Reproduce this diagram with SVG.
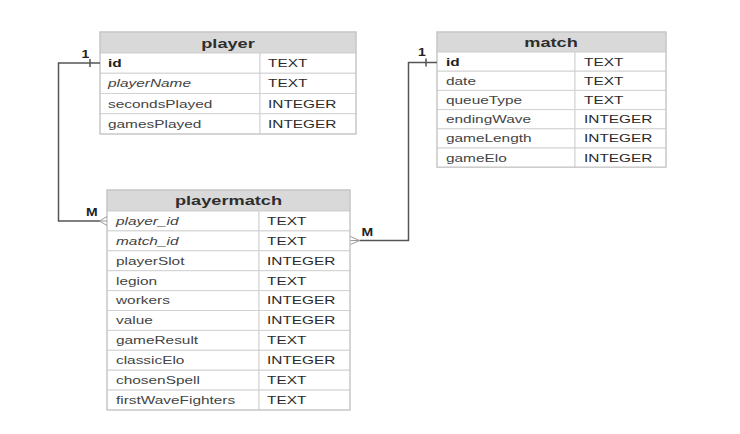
<svg xmlns="http://www.w3.org/2000/svg" width="740" height="434" viewBox="0 0 740 434">
  <style>
    .hdr { fill: #d9d9d9; stroke: #c6c6c6; stroke-width: 1; }
    .cell { fill: #ffffff; stroke: #d2d2d2; stroke-width: 1; }
    .frame { fill: none; stroke: #c8c8c8; stroke-width: 1.2; }
    text { font-family: "Liberation Sans", Arial, sans-serif; fill: #333333; }
    .h { font-size: 13px; font-weight: bold; text-anchor: middle; fill: #2e2e2e; }
    .r { font-size: 11px; fill: #444444; }
    .t { font-size: 11px; fill: #2a2a2a; }
    .b { font-weight: bold; fill: #222222; }
    .i { font-style: italic; }
    .card { font-size: 10px; font-weight: bold; fill: #222222; }
    .link { fill: none; stroke: #555555; stroke-width: 1.5; }
    .foot { fill: none; stroke: #9a9a9a; stroke-width: 1; }
  </style>

  <rect width="740" height="434" fill="#ffffff"/>

  <!-- player table -->
  <g id="player">
    <rect class="hdr" x="100" y="32" width="256" height="21"/>
    <text class="h" transform="translate(228,47.5) scale(1.4,1)">player</text>
    <rect class="cell" x="100" y="53" width="160" height="20.25"/>
    <rect class="cell" x="260" y="53" width="96" height="20.25"/>
    <rect class="cell" x="100" y="73.25" width="160" height="20.25"/>
    <rect class="cell" x="260" y="73.25" width="96" height="20.25"/>
    <rect class="cell" x="100" y="93.5" width="160" height="20.25"/>
    <rect class="cell" x="260" y="93.5" width="96" height="20.25"/>
    <rect class="cell" x="100" y="113.75" width="160" height="20.25"/>
    <rect class="cell" x="260" y="113.75" width="96" height="20.25"/>
    <rect class="frame" x="100" y="32" width="256" height="102"/>
    <text class="r b" transform="translate(108,67) scale(1.4,1)">id</text>
    <text class="t" transform="translate(268,67) scale(1.4,1)">TEXT</text>
    <text class="r i" transform="translate(108,87.3) scale(1.4,1)">playerName</text>
    <text class="t" transform="translate(268,87.3) scale(1.4,1)">TEXT</text>
    <text class="r" transform="translate(108,107.5) scale(1.4,1)">secondsPlayed</text>
    <text class="t" transform="translate(268,107.5) scale(1.4,1)">INTEGER</text>
    <text class="r" transform="translate(108,127.8) scale(1.4,1)">gamesPlayed</text>
    <text class="t" transform="translate(268,127.8) scale(1.4,1)">INTEGER</text>
  </g>

  <!-- match table -->
  <g id="match">
    <rect class="hdr" x="437" y="32" width="229" height="20"/>
    <text class="h" transform="translate(551,47) scale(1.4,1)">match</text>
    <rect class="cell" x="437" y="52" width="138" height="19.2"/>
    <rect class="cell" x="575" y="52" width="91" height="19.2"/>
    <rect class="cell" x="437" y="71.2" width="138" height="19.2"/>
    <rect class="cell" x="575" y="71.2" width="91" height="19.2"/>
    <rect class="cell" x="437" y="90.4" width="138" height="19.2"/>
    <rect class="cell" x="575" y="90.4" width="91" height="19.2"/>
    <rect class="cell" x="437" y="109.6" width="138" height="19.2"/>
    <rect class="cell" x="575" y="109.6" width="91" height="19.2"/>
    <rect class="cell" x="437" y="128.8" width="138" height="19.2"/>
    <rect class="cell" x="575" y="128.8" width="91" height="19.2"/>
    <rect class="cell" x="437" y="148" width="138" height="19.2"/>
    <rect class="cell" x="575" y="148" width="91" height="19.2"/>
    <rect class="frame" x="437" y="32" width="229" height="135.2"/>
    <text class="r b" transform="translate(446,65.6) scale(1.4,1)">id</text>
    <text class="t" transform="translate(584,65.6) scale(1.4,1)">TEXT</text>
    <text class="r" transform="translate(446,84.8) scale(1.4,1)">date</text>
    <text class="t" transform="translate(584,84.8) scale(1.4,1)">TEXT</text>
    <text class="r" transform="translate(446,104) scale(1.4,1)">queueType</text>
    <text class="t" transform="translate(584,104) scale(1.4,1)">TEXT</text>
    <text class="r" transform="translate(446,123.2) scale(1.4,1)">endingWave</text>
    <text class="t" transform="translate(584,123.2) scale(1.4,1)">INTEGER</text>
    <text class="r" transform="translate(446,142.4) scale(1.4,1)">gameLength</text>
    <text class="t" transform="translate(584,142.4) scale(1.4,1)">INTEGER</text>
    <text class="r" transform="translate(446,161.6) scale(1.4,1)">gameElo</text>
    <text class="t" transform="translate(584,161.6) scale(1.4,1)">INTEGER</text>
  </g>

  <!-- playermatch table -->
  <g id="playermatch">
    <rect class="hdr" x="107" y="190" width="243" height="21"/>
    <text class="h" transform="translate(228.5,205) scale(1.4,1)">playermatch</text>
    <g>
      <rect class="cell" x="107" y="211" width="152" height="19.9"/>
      <rect class="cell" x="259" y="211" width="91" height="19.9"/>
      <rect class="cell" x="107" y="230.9" width="152" height="19.9"/>
      <rect class="cell" x="259" y="230.9" width="91" height="19.9"/>
      <rect class="cell" x="107" y="250.8" width="152" height="19.9"/>
      <rect class="cell" x="259" y="250.8" width="91" height="19.9"/>
      <rect class="cell" x="107" y="270.7" width="152" height="19.9"/>
      <rect class="cell" x="259" y="270.7" width="91" height="19.9"/>
      <rect class="cell" x="107" y="290.6" width="152" height="19.9"/>
      <rect class="cell" x="259" y="290.6" width="91" height="19.9"/>
      <rect class="cell" x="107" y="310.5" width="152" height="19.9"/>
      <rect class="cell" x="259" y="310.5" width="91" height="19.9"/>
      <rect class="cell" x="107" y="330.4" width="152" height="19.9"/>
      <rect class="cell" x="259" y="330.4" width="91" height="19.9"/>
      <rect class="cell" x="107" y="350.3" width="152" height="19.9"/>
      <rect class="cell" x="259" y="350.3" width="91" height="19.9"/>
      <rect class="cell" x="107" y="370.2" width="152" height="19.9"/>
      <rect class="cell" x="259" y="370.2" width="91" height="19.9"/>
      <rect class="cell" x="107" y="390.1" width="152" height="19.9"/>
      <rect class="cell" x="259" y="390.1" width="91" height="19.9"/>
    </g>
    <rect class="frame" x="107" y="190" width="243" height="220"/>
    <text class="r i" transform="translate(116,224.8) scale(1.4,1)">player_id</text>
    <text class="t" transform="translate(267,224.8) scale(1.4,1)">TEXT</text>
    <text class="r i" transform="translate(116,244.7) scale(1.4,1)">match_id</text>
    <text class="t" transform="translate(267,244.7) scale(1.4,1)">TEXT</text>
    <text class="r" transform="translate(116,264.6) scale(1.4,1)">playerSlot</text>
    <text class="t" transform="translate(267,264.6) scale(1.4,1)">INTEGER</text>
    <text class="r" transform="translate(116,284.5) scale(1.4,1)">legion</text>
    <text class="t" transform="translate(267,284.5) scale(1.4,1)">TEXT</text>
    <text class="r" transform="translate(116,304.4) scale(1.4,1)">workers</text>
    <text class="t" transform="translate(267,304.4) scale(1.4,1)">INTEGER</text>
    <text class="r" transform="translate(116,324.3) scale(1.4,1)">value</text>
    <text class="t" transform="translate(267,324.3) scale(1.4,1)">INTEGER</text>
    <text class="r" transform="translate(116,344.2) scale(1.4,1)">gameResult</text>
    <text class="t" transform="translate(267,344.2) scale(1.4,1)">TEXT</text>
    <text class="r" transform="translate(116,364.1) scale(1.4,1)">classicElo</text>
    <text class="t" transform="translate(267,364.1) scale(1.4,1)">INTEGER</text>
    <text class="r" transform="translate(116,384) scale(1.4,1)">chosenSpell</text>
    <text class="t" transform="translate(267,384) scale(1.4,1)">TEXT</text>
    <text class="r" transform="translate(116,403.9) scale(1.4,1)">firstWaveFighters</text>
    <text class="t" transform="translate(267,403.9) scale(1.4,1)">TEXT</text>
  </g>

  <!-- relationships -->
  <g id="connectors">
    <!-- player.id 1 : M playermatch.player_id -->
    <polyline class="link" points="100,63 58.5,63 58.5,221 100,221"/>
    <line class="link" x1="90" y1="59" x2="90" y2="67"/>
    <polyline class="foot" points="107,216.5 99.5,221 107,225.5"/>
    <line class="foot" x1="99.5" y1="221" x2="107" y2="221"/>
    <text class="card" transform="translate(81.5,57.5) scale(1.4,1)">1</text>
    <text class="card" transform="translate(86,215.5) scale(1.4,1)">M</text>

    <!-- match.id 1 : M playermatch.match_id -->
    <polyline class="link" points="437,62.5 408.5,62.5 408.5,240.5 359.5,240.5"/>
    <line class="link" x1="426" y1="58.5" x2="426" y2="66.5"/>
    <polyline class="foot" points="350.5,236.5 359.5,240.5 350.5,244.5"/>
    <line class="foot" x1="350.5" y1="240.5" x2="359.5" y2="240.5"/>
    <text class="card" transform="translate(418,56) scale(1.4,1)">1</text>
    <text class="card" transform="translate(361.5,235.5) scale(1.4,1)">M</text>
  </g>
</svg>
